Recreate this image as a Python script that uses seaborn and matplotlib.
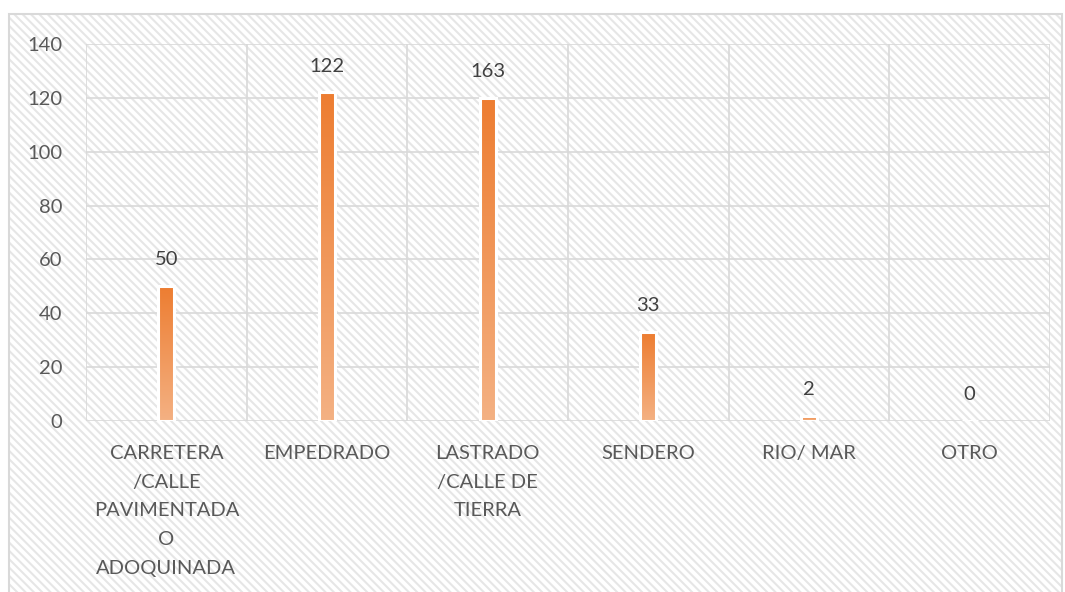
import matplotlib
matplotlib.use("Agg")
import matplotlib.pyplot as plt
import numpy as np
import seaborn as sns
import pandas as pd
from matplotlib.patches import Rectangle
from matplotlib.colors import LinearSegmentedColormap

# data
categories = ["CARRETERA\n/CALLE\nPAVIMENTADA\nO\nADOQUINADA", "EMPEDRADO",
              "LASTRADO\n/CALLE DE\nTIERRA", "SENDERO", "RIO/ MAR", "OTRO"]
bar_heights = [50, 122, 120, 33, 2, 0]
value_labels = ["50", "122", "163", "33", "2", "0"]

df = pd.DataFrame({"cat": categories, "val": bar_heights})

sns.set_theme(style="white")
plt.rcParams["font.family"] = ["Lato", "DejaVu Sans"]
plt.rcParams["hatch.linewidth"] = 1.5
text_col = "#595959"
grid_col = "#d9d9d9"
fs = 14.5

fig = plt.figure(figsize=(10.65, 5.92), dpi=100)
fig.patch.set_facecolor("white")

# hatched chart area background + border
fig.patches.append(Rectangle((9 / 1065, -0.02), 1053 / 1065, (592 - 14) / 592 + 0.02,
                             transform=fig.transFigure, facecolor="white",
                             edgecolor="#e6e6e6", hatch="\\" * 4, linewidth=0, zorder=-2))
fig.patches.append(Rectangle((9 / 1065, -0.02), 1053 / 1065, (592 - 14) / 592 + 0.02,
                             transform=fig.transFigure, facecolor="none",
                             edgecolor=grid_col, linewidth=1.5, zorder=-1))

ax = fig.add_axes([86 / 1065, 1 - 421 / 592, (1050 - 86) / 1065, (421 - 44) / 592])
ax.set_facecolor("none")

sns.barplot(data=df, x="cat", y="val", ax=ax, width=0.1, color="#ED7D31",
            edgecolor="white", linewidth=2.2, zorder=3)

cmap = LinearSegmentedColormap.from_list("org", ["#F4B183", "#ED7D31"])
grad = np.linspace(0, 1, 256).reshape(-1, 1)
for p in ax.patches:
    h = p.get_height()
    if h <= 0:
        continue
    x0 = p.get_x()
    w = p.get_width()
    ax.imshow(grad, extent=[x0, x0 + w, 0, h], origin="lower", cmap=cmap,
              aspect="auto", zorder=2.5)
    p.set_facecolor("none")

for i, (h, lab) in enumerate(zip(bar_heights, value_labels)):
    ax.annotate(lab, (i, h), xytext=(0, 19), textcoords="offset points",
                ha="center", va="center", fontsize=fs, color="#404040")

ax.set_xlim(-0.5, len(categories) - 0.5)
ax.set_ylim(0, 140)
ax.set_yticks(np.arange(0, 141, 20))
ax.set_xticks(np.arange(-0.5, len(categories), 1), minor=True)
ax.grid(axis="y", which="major", color=grid_col, linewidth=1.2, zorder=1)
ax.grid(axis="x", which="minor", color=grid_col, linewidth=1.2, zorder=1)
ax.grid(axis="x", which="major", visible=False)
ax.set_axisbelow(True)
for s in ax.spines.values():
    s.set_visible(False)
ax.tick_params(axis="both", which="both", length=0)
ax.tick_params(axis="y", pad=17, labelsize=fs, labelcolor=text_col)
ax.tick_params(axis="x", pad=17, labelsize=fs, labelcolor=text_col)
for t in ax.get_xticklabels():
    t.set_linespacing(1.85)
    t.set_verticalalignment("top")
ax.set_xlabel("")
ax.set_ylabel("")

fig.savefig("out.png", dpi=100, facecolor="white")
